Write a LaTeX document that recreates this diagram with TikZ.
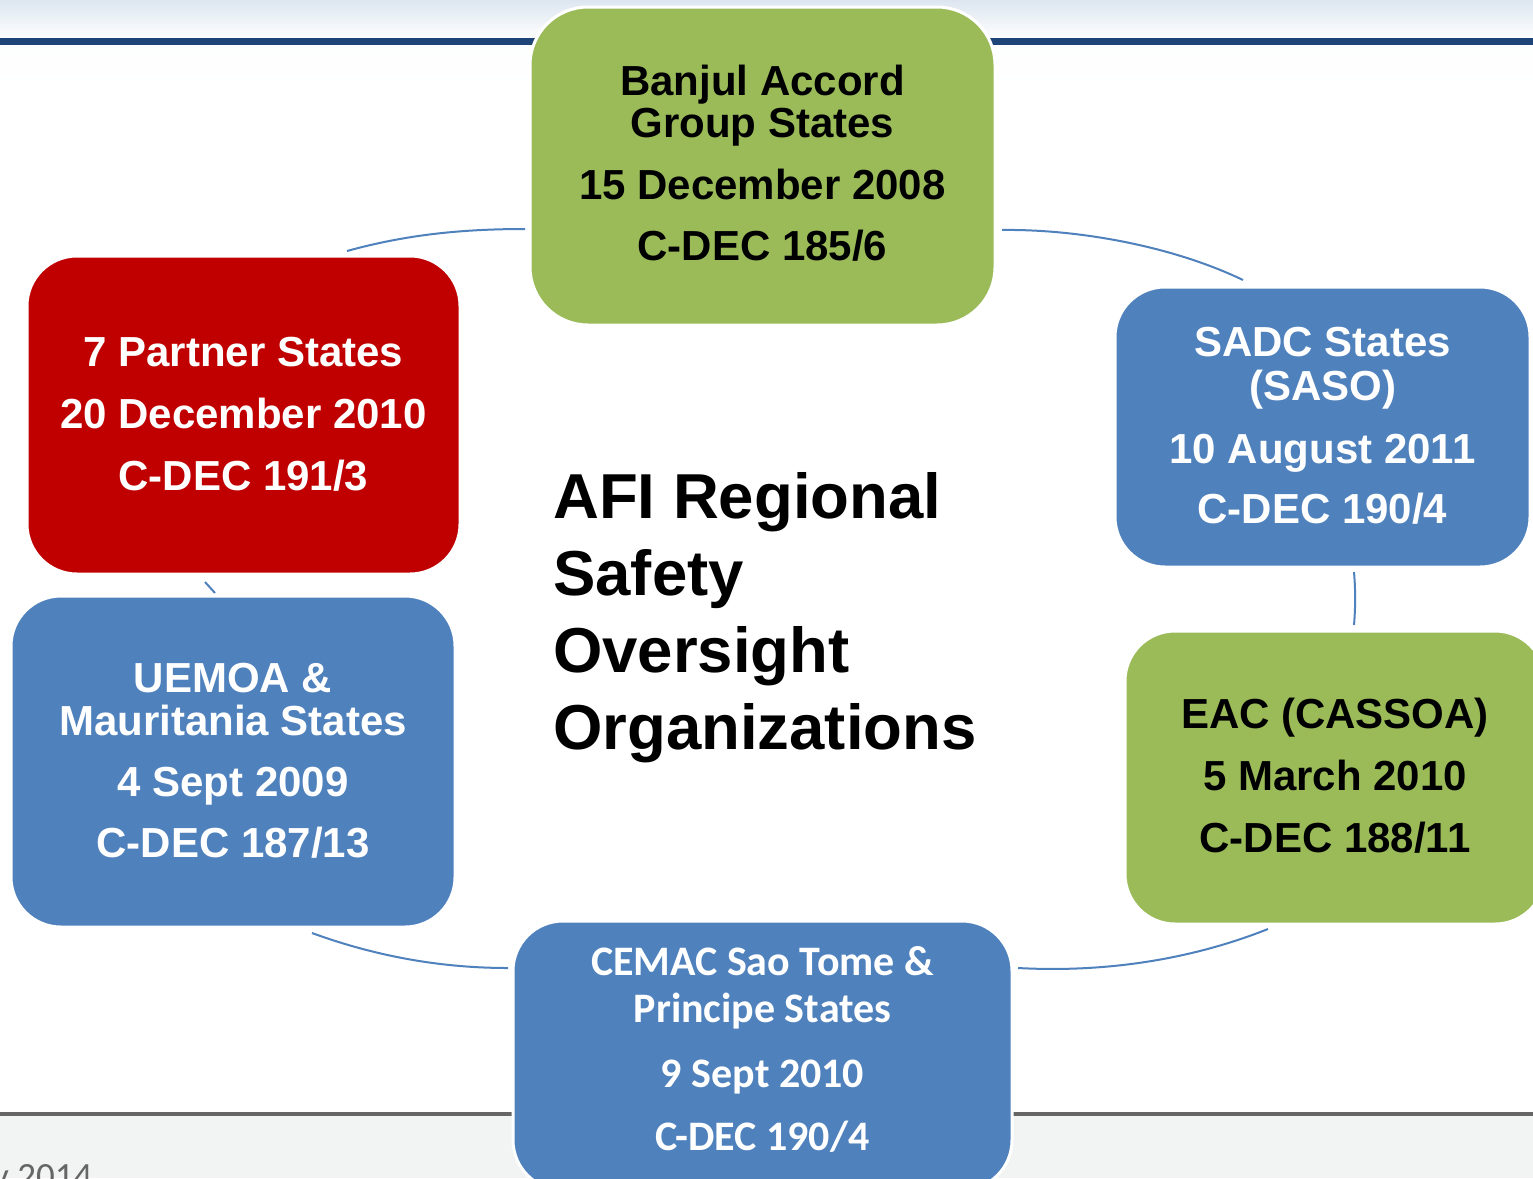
\documentclass[tikz,border=0pt]{standalone}
\usepackage{fontspec}
\setmainfont{Liberation Sans}
\newfontfamily\arialfont{Liberation Sans}
\newfontfamily\calfont{Carlito}
\usetikzlibrary{shadings}
\definecolor{sgreen}{HTML}{9BBB59}
\definecolor{sblue}{HTML}{4F81BD}
\definecolor{sred}{HTML}{C00000}
\definecolor{hdrblue}{HTML}{1F4478}
\definecolor{hdrtop}{HTML}{DDE6F0}
\definecolor{ftgrey}{HTML}{666666}
\definecolor{ftbg}{HTML}{F2F3F3}
\definecolor{arcblue}{HTML}{4F81BD}
\begin{document}
\begin{tikzpicture}[x=1pt,y=-1pt,
  box/.style={rounded corners=50pt, draw=white, line width=3pt, inner sep=0pt},
  lbl/.style={align=center, inner sep=0pt, anchor=north, font=\arialfont\bfseries\fontsize{42}{42}\selectfont},
  callbl/.style={align=center, inner sep=0pt, anchor=north, font=\calfont\bfseries\fontsize{42}{47}\selectfont},
  arc/.style={draw=arcblue, line width=2pt}]
\useasboundingbox (0,0) rectangle (1533,1178);
\fill[white] (0,0) rectangle (1533,1178);
% header
\shade[top color=hdrtop, bottom color=white!96!hdrtop] (0,0) rectangle (1533,38);
\fill[hdrblue] (0,38) rectangle (1533,45.5);
\shade[top color=white!94!hdrtop, bottom color=white] (0,45.5) rectangle (1533,90);
% footer
\fill[ftbg] (0,1116) rectangle (1533,1178);
\fill[ftgrey] (0,1112) rectangle (1533,1116);
\node[anchor=base west, inner sep=0pt, text=ftgrey, font=\calfont\fontsize{37}{37}\selectfont] (date) at (-8,1188) {y 2014};
% cycle arcs
\coordinate (a1s) at (347,251);  \coordinate (a1e) at (525,229);
\coordinate (a2s) at (1002,230); \coordinate (a2e) at (1243,280);
\coordinate (a3s) at (1354,572); \coordinate (a3e) at (1354,625);
\coordinate (a4s) at (1268,929); \coordinate (a4e) at (1018,968);
\coordinate (a5s) at (508,968);  \coordinate (a5e) at (312,933);
\coordinate (a6s) at (215,593);  \coordinate (a6e) at (205,582);
\draw[arc] (a1s) .. controls (405,235) and (460,229) .. (a1e);
\draw[arc] (a2s) .. controls (1075,229) and (1170,245) .. (a2e);
\draw[arc] (a3s) .. controls (1355.5,590) and (1355.5,607) .. (a3e);
\draw[arc] (a4s) .. controls (1195,958) and (1110,973) .. (a4e);
\draw[arc] (a5s) .. controls (440,968) and (375,956) .. (a5e);
\draw[arc] (a6s) -- (a6e);
% boxes
\node[box, fill=sgreen, minimum width=465pt, minimum height=318pt, rounded corners=58pt] (banjul) at (762.5,166) {};
\node[box, fill=sred, minimum width=433pt, minimum height=318pt] (partner) at (243.5,415) {};
\node[box, fill=sblue, minimum width=415pt, minimum height=280pt] (sadc) at (1322.5,427) {};
\node[box, fill=sgreen, minimum width=420pt, minimum height=293pt] (eac) at (1335,777.5) {};
\node[box, fill=sblue, minimum width=444pt, minimum height=331pt] (uemoa) at (233,761.5) {};
\node[box, fill=sblue, minimum width=499pt, minimum height=269pt] (cemac) at (762.5,1055.5) {};
% labels
\node[lbl, text=black] (banjul-t) at (762.5,65) {Banjul Accord\\Group States\\[20pt]15 December 2008\\[19pt]C-DEC 185/6};
\node[lbl, text=white] (partner-t) at (243.5,337) {7 Partner States\\[20pt]20 December 2010\\[20pt]C-DEC 191/3};
\node[lbl, text=white] (sadc-t) at (1322.5,327) {SADC States\\[2pt](SASO)\\[21pt]10 August 2011\\[18pt]C-DEC 190/4};
\node[lbl, text=black] (eac-t) at (1335,698) {EAC (CASSOA)\\[20pt]5 March 2010\\[20pt]C-DEC 188/11};
\node[lbl, text=white] (uemoa-t) at (233,663) {UEMOA \&\\[1pt]Mauritania States\\[19pt]4 Sept 2009\\[19pt]C-DEC 187/13};
\node[callbl, text=white] (cemac-t) at (762.5,946) {CEMAC Sao Tome \&\\Principe States\\[18pt]9 Sept 2010\\[16pt]C-DEC 190/4};
% title
\node[anchor=north west, align=left, inner sep=0pt, font=\arialfont\bfseries\fontsize{63.5}{77}\selectfont] (title) at (553,472) {AFI Regional\\Safety\\Oversight\\Organizations};
\end{tikzpicture}
\end{document}
